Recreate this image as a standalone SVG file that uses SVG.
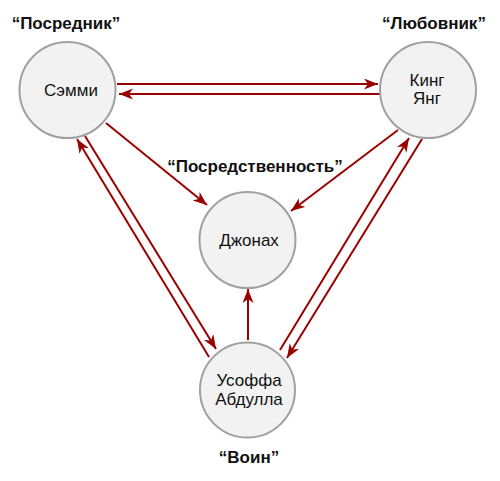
<svg xmlns="http://www.w3.org/2000/svg" width="500" height="481" viewBox="0 0 500 481">
<style>
.node{fill:#f2f2f2;stroke:#a0a0a0;stroke-width:2}
.t{font-family:"Liberation Sans",Arial,sans-serif;font-size:17px;fill:#111;text-anchor:middle}
.lbl{font-family:"Liberation Sans",Arial,sans-serif;font-size:17px;font-weight:bold;fill:#111;text-anchor:middle}
.c{stroke:#990000;stroke-width:2;fill:none;marker-end:url(#ah)}
</style>
<defs>
<marker id="ah" markerUnits="userSpaceOnUse" markerWidth="15" markerHeight="12" refX="14" refY="5.5" orient="auto">
<path d="M0,0 L14,5.5 L0,11 L4,5.5 z" fill="#990000"/>
</marker>
</defs>
<rect width="500" height="481" fill="#fff"/>
<g id="connectors">
<line class="c" x1="117" y1="84" x2="378" y2="84"/>
<line class="c" x1="380" y1="94" x2="119" y2="94"/>
<line class="c" x1="106" y1="123" x2="207" y2="205"/>
<line class="c" x1="398" y1="130" x2="291" y2="211"/>
<line class="c" x1="248" y1="340" x2="248" y2="289"/>
<line class="c" x1="209" y1="357" x2="77" y2="139"/>
<line class="c" x1="85" y1="136" x2="216" y2="349"/>
<line class="c" x1="280" y1="350" x2="409" y2="138"/>
<line class="c" x1="422" y1="139" x2="287" y2="358"/>
</g>
<g id="semmi">
<circle class="node" cx="67.5" cy="90" r="48"/>
<text class="t" x="71" y="96">Сэмми</text>
<text class="lbl" x="66" y="29">“Посредник”</text>
</g>
<g id="king">
<circle class="node" cx="428" cy="90" r="48"/>
<text class="t" x="427" y="86">Кинг</text>
<text class="t" x="427" y="104">Янг</text>
<text class="lbl" x="434" y="29">“Любовник”</text>
</g>
<g id="jonah">
<circle class="node" cx="247.5" cy="240" r="48"/>
<text class="t" x="249" y="246">Джонах</text>
<text class="lbl" x="255" y="172">“Посредственность”</text>
</g>
<g id="usoffa">
<circle class="node" cx="247.5" cy="390" r="47.5"/>
<text class="t" x="249" y="386">Усоффа</text>
<text class="t" x="249" y="405">Абдулла</text>
<text class="lbl" x="249" y="463">“Воин”</text>
</g>
</svg>
